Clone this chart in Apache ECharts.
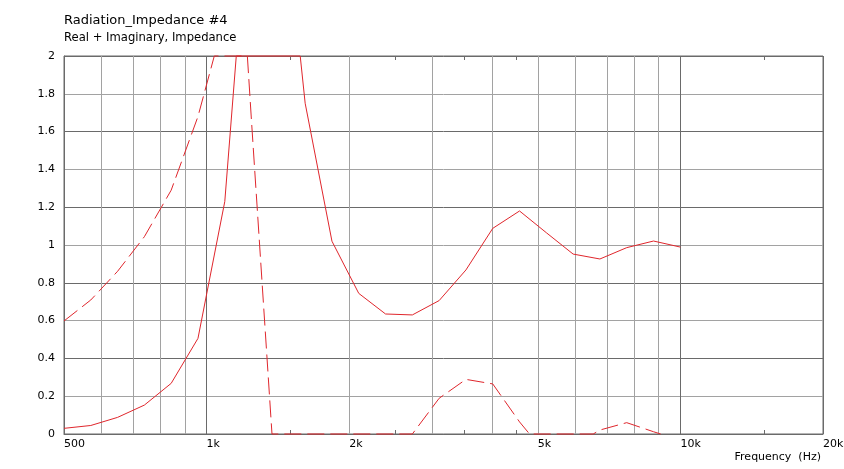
<!DOCTYPE html>
<html>
<head>
<meta charset="utf-8">
<script src="https://cdn.jsdelivr.net/npm/echarts@6/dist/echarts.min.js"></script>
<style>
html,body{margin:0;padding:0;background:#fff;}
#chart{width:844px;height:469px;}
</style>
</head>
<body>
<div id="chart"></div>
<script>
// ---- data ----
const titleText = 'Radiation_Impedance #4';
const subtitleText = 'Real + Imaginary, Impedance';
const xAxisName = 'Frequency  (Hz)';

// Real part (solid) – frequency (Hz) and value
const realFreq = [500, 569.5, 648.8, 739.0, 841.8, 958.9, 1092.3, 1155, 1576, 1614.4, 1838.9, 2094.7, 2386.1, 2718.0, 3096.0, 3526.7, 4017.2, 4576.0, 5212.5, 5937.5, 6763.3, 7704.0, 8775.6, 10000];
const realVal  = [0.03, 0.045, 0.088, 0.153, 0.268, 0.506, 1.23, 2, 2, 1.75, 1.02, 0.744, 0.635, 0.63, 0.706, 0.868, 1.088, 1.18, 1.065, 0.952, 0.926, 0.986, 1.021, 0.989];

// Imaginary part (dashed)
const imagFreq = [500, 569.5, 648.8, 739.0, 841.8, 958.9, 1038, 1219, 1244.2, 1374, 2718.0, 3096.0, 3526.7, 4017.2, 4576.0, 4804, 6546, 6763.3, 7704.0, 8775.6, 9087];
const imagVal  = [0.598, 0.709, 0.861, 1.044, 1.29, 1.68, 2, 2, 1.65, 0, 0, 0.189, 0.289, 0.265, 0.064, 0, 0, 0.021, 0.06, 0.012, 0];

// axis ticks
const xLabelTicks = [500, 1000, 2000, 5000, 10000, 20000];
const xGridTicks = [500, 600, 700, 800, 900, 1000, 2000, 3000, 4000, 5000, 6000, 7000, 8000, 9000, 10000, 20000];
const xMinorTicks = [1500, 2500, 3500, 4500, 15000];
const yTicks = [0, 0.2, 0.4, 0.6, 0.8, 1, 1.2, 1.4, 1.6, 1.8, 2];

// ---- styles ----
const RED = '#e0262c';
const DARK = '#6a6a6a';
const LIGHT = '#a2a2a2';
const FONT = 'DejaVu Sans';

const pairs = (xs, ys) => xs.map((x, i) => [x, ys[i]]);
const xGridColors = xGridTicks.map(v => (v === 1000 || v === 10000 || v === 500 || v === 20000) ? DARK : LIGHT);

const chart = echarts.init(document.getElementById('chart'), null, {renderer: 'canvas'});

const baseX = {
  type: 'log', logBase: 10, min: 500, max: 20000, gridIndex: 0
};

chart.setOption({
  animation: false,
  backgroundColor: '#ffffff',
  title: [
    {text: titleText, left: 64, top: 14, padding: 0, textStyle: {fontFamily: FONT, fontSize: 13, fontWeight: 'normal', color: '#000'}},
    {text: subtitleText, left: 64, top: 32, padding: 0, textStyle: {fontFamily: FONT, fontSize: 11.6, fontWeight: 'normal', color: '#000'}}
  ],
  grid: {left: 64, right: 21, top: 56, bottom: 35, show: true, borderColor: DARK, borderWidth: 1,
         backgroundColor: 'transparent', containLabel: false, outerBoundsMode: 'none'},
  xAxis: [
    Object.assign({}, baseX, {
      position: 'bottom',
      axisLine: {show: true, onZero: false, lineStyle: {color: DARK, width: 1}},
      axisTick: {show: false, customValues: xGridTicks},
      axisLabel: {
        customValues: xLabelTicks,
        fontFamily: FONT, fontSize: 11, color: '#000', margin: 5, align: 'left',
        formatter: v => (v >= 1000 ? (v / 1000) + 'k' : String(v))
      },
      splitLine: {show: true, lineStyle: {color: xGridColors, width: 1}}
    }),
    Object.assign({}, baseX, {
      position: 'bottom',
      axisLine: {show: false, onZero: false},
      axisTick: {show: true, inside: true, length: 4, customValues: xMinorTicks, lineStyle: {color: DARK}},
      axisLabel: {show: false},
      splitLine: {show: false}
    }),
    Object.assign({}, baseX, {
      position: 'top',
      axisLine: {show: false, onZero: false},
      axisTick: {show: true, inside: true, length: 4, customValues: xMinorTicks, lineStyle: {color: DARK}},
      axisLabel: {show: false},
      splitLine: {show: false}
    })
  ],
  yAxis: {
    type: 'value', min: 0, max: 2, interval: 0.2,
    axisLine: {show: true, lineStyle: {color: DARK}},
    axisTick: {show: false},
    axisLabel: {fontFamily: FONT, fontSize: 11, color: '#000', margin: 9, customValues: yTicks},
    splitLine: {show: true, lineStyle: {color: [DARK, LIGHT], width: 1}}
  },
  graphic: [
    {type: 'text', right: 844 - 821, top: 452, style: {text: xAxisName, font: '11px "DejaVu Sans"', fill: '#000', textAlign: 'right'}}
  ],
  series: [
    {
      type: 'line', name: 'Real', xAxisIndex: 0, yAxisIndex: 0,
      data: pairs(realFreq, realVal), showSymbol: false, symbol: 'none', clip: false,
      lineStyle: {color: RED, width: 1}, z: 5
    },
    {
      type: 'line', name: 'Imaginary', xAxisIndex: 0, yAxisIndex: 0,
      data: pairs(imagFreq, imagVal), showSymbol: false, symbol: 'none', clip: false,
      lineStyle: {color: RED, width: 1, type: [17, 6]}, z: 5
    }
  ]
});
</script>
</body>
</html>
